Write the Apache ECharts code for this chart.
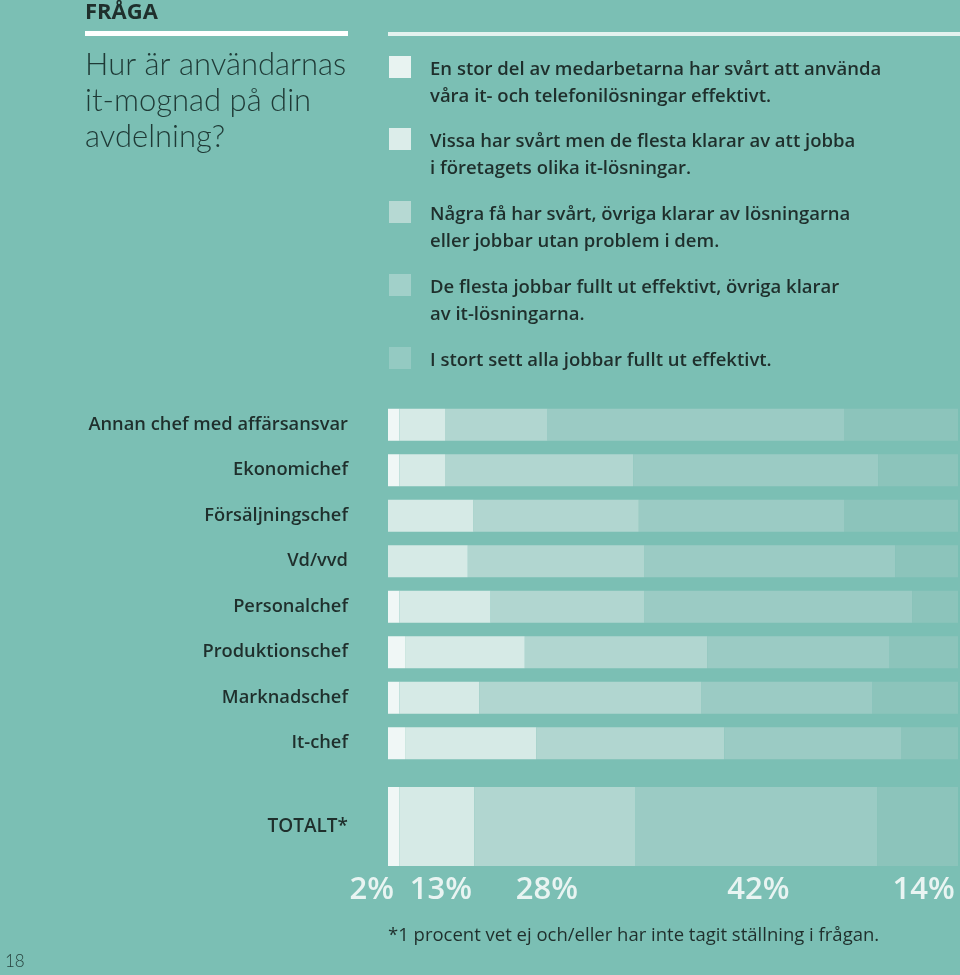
<!DOCTYPE html>
<html>
<head>
<meta charset="utf-8">
<script src="https://cdn.jsdelivr.net/npm/echarts@6/dist/echarts.min.js"></script>
<style>
html,body{margin:0;padding:0;background:#7bbfb4;}
#chart{width:960px;height:975px;}
</style>
</head>
<body>
<div id="chart"></div>
<script>
// ---- data ----
var categories = ['Annan chef med affärsansvar','Ekonomichef','Försäljningschef','Vd/vvd','Personalchef','Produktionschef','Marknadschef','It-chef'];
var seriesNames = [
  'En stor del av medarbetarna har svårt att använda\nvåra it- och telefonilösningar effektivt.',
  'Vissa har svårt men de flesta klarar av att jobba\ni företagets olika it-lösningar.',
  'Några få har svårt, övriga klarar av lösningarna\neller jobbar utan problem i dem.',
  'De flesta jobbar fullt ut effektivt, övriga klarar\nav it-lösningarna.',
  'I stort sett alla jobbar fullt ut effektivt.'
];
var s1 = [2, 2, 0, 0, 2, 3, 2, 3];
var s2 = [8, 8, 15, 14, 16, 21, 14, 23];
var s3 = [18, 33, 29, 31, 27, 32, 39, 33];
var s4 = [52, 43, 36, 44, 47, 32, 30, 31];
var s5 = [20, 14, 20, 11, 8, 12, 15, 10];
var totalCategory = ['TOTALT*'];
var totalValues = [2, 13, 28, 42, 14];
var totalLabels = ['2%', '13%', '28%', '42%', '14%'];
var titleTop = 'FRÅGA';
var question = 'Hur är användarnas\nit-mognad på din\navdelning?';
var footnote = '*1 procent vet ej och/eller har inte tagit ställning i frågan.';
var pageNumber = '18';

// ---- styles ----
var barColors = ['#f0f7f6', '#d6eae6', '#b1d6d0', '#9bcbc4', '#8cc4bb'];
var swatchColors = ['#e8f3f1', '#dcedea', '#b6d9d3', '#a1d0c9', '#94cac2'];
var dark = '#1f2f2c';
var FONT = '"Open Sans", Lato, sans-serif';
var LIGHT = 'Lato, sans-serif';

var chart = echarts.init(document.getElementById('chart'), null, {renderer: 'canvas'});

var rowData = [s1, s2, s3, s4, s5];
var series = [];
rowData.forEach(function (arr, i) {
  series.push({
    name: seriesNames[i], type: 'bar', stack: 'rows',
    xAxisIndex: 0, yAxisIndex: 0,
    barWidth: 32,
    itemStyle: {color: barColors[i]},
    emphasis: {disabled: true},
    data: arr
  });
});
var labelOffsets = [[-22, 0], [4, 0], [-8, 0], [2, 0], [6, 0]];
totalValues.forEach(function (v, i) {
  series.push({
    name: seriesNames[i], type: 'bar', stack: 'total',
    xAxisIndex: 1, yAxisIndex: 1,
    barWidth: 79,
    itemStyle: {color: barColors[i]},
    emphasis: {disabled: true},
    label: {
      show: true, position: 'bottom', distance: 9, offset: labelOffsets[i],
      formatter: totalLabels[i],
      color: '#e9f4f2', fontSize: 31, fontWeight: 600, fontFamily: FONT
    },
    data: [v]
  });
});

var graphics = [];
graphics.push({type: 'text', left: 85, top: 2, style: {text: titleTop, fill: dark, font: 'bold 22px ' + FONT}});
graphics.push({type: 'rect', shape: {x: 85, y: 31, width: 263, height: 5}, style: {fill: '#ffffff'}});
graphics.push({type: 'rect', shape: {x: 388, y: 32, width: 572, height: 4}, style: {fill: '#e4f2ef'}});
graphics.push({type: 'text', left: 85, top: 47, style: {text: question, fill: '#1f3a36', font: '300 31px ' + LIGHT, lineHeight: 36}});
var legendTops = [56, 128, 201, 274, 347];
seriesNames.forEach(function (n, i) {
  graphics.push({type: 'rect', shape: {x: 389, y: legendTops[i], width: 22, height: 22}, style: {fill: swatchColors[i]}});
  graphics.push({type: 'text', left: 430, top: legendTops[i], style: {text: n, fill: dark, font: '600 18.5px ' + FONT, lineHeight: 27}});
});
graphics.push({type: 'text', left: 388, top: 926, style: {text: footnote, fill: dark, font: '18.5px ' + FONT}});
graphics.push({type: 'text', left: 5, top: 953, style: {text: pageNumber, fill: '#26413d', font: '300 17px ' + LIGHT}});

chart.setOption({
  animation: false,
  backgroundColor: '#7bbfb4',
  grid: [
    {left: 388, width: 570, top: 402, height: 364},
    {left: 388, width: 570, top: 787, height: 79}
  ],
  xAxis: [
    {type: 'value', gridIndex: 0, min: 0, max: 100, show: false},
    {type: 'value', gridIndex: 1, min: 0, max: 99, show: false}
  ],
  yAxis: [
    {type: 'category', gridIndex: 0, inverse: true, data: categories,
      axisLine: {show: false}, axisTick: {show: false}, splitLine: {show: false},
      axisLabel: {margin: 40, color: dark, fontSize: 18.3, fontWeight: 600, fontFamily: FONT}},
    {type: 'category', gridIndex: 1, data: totalCategory,
      axisLine: {show: false}, axisTick: {show: false}, splitLine: {show: false},
      axisLabel: {margin: 40, color: dark, fontSize: 19, fontWeight: 600, fontFamily: FONT}}
  ],
  series: series,
  graphic: graphics
});
</script>
</body>
</html>
